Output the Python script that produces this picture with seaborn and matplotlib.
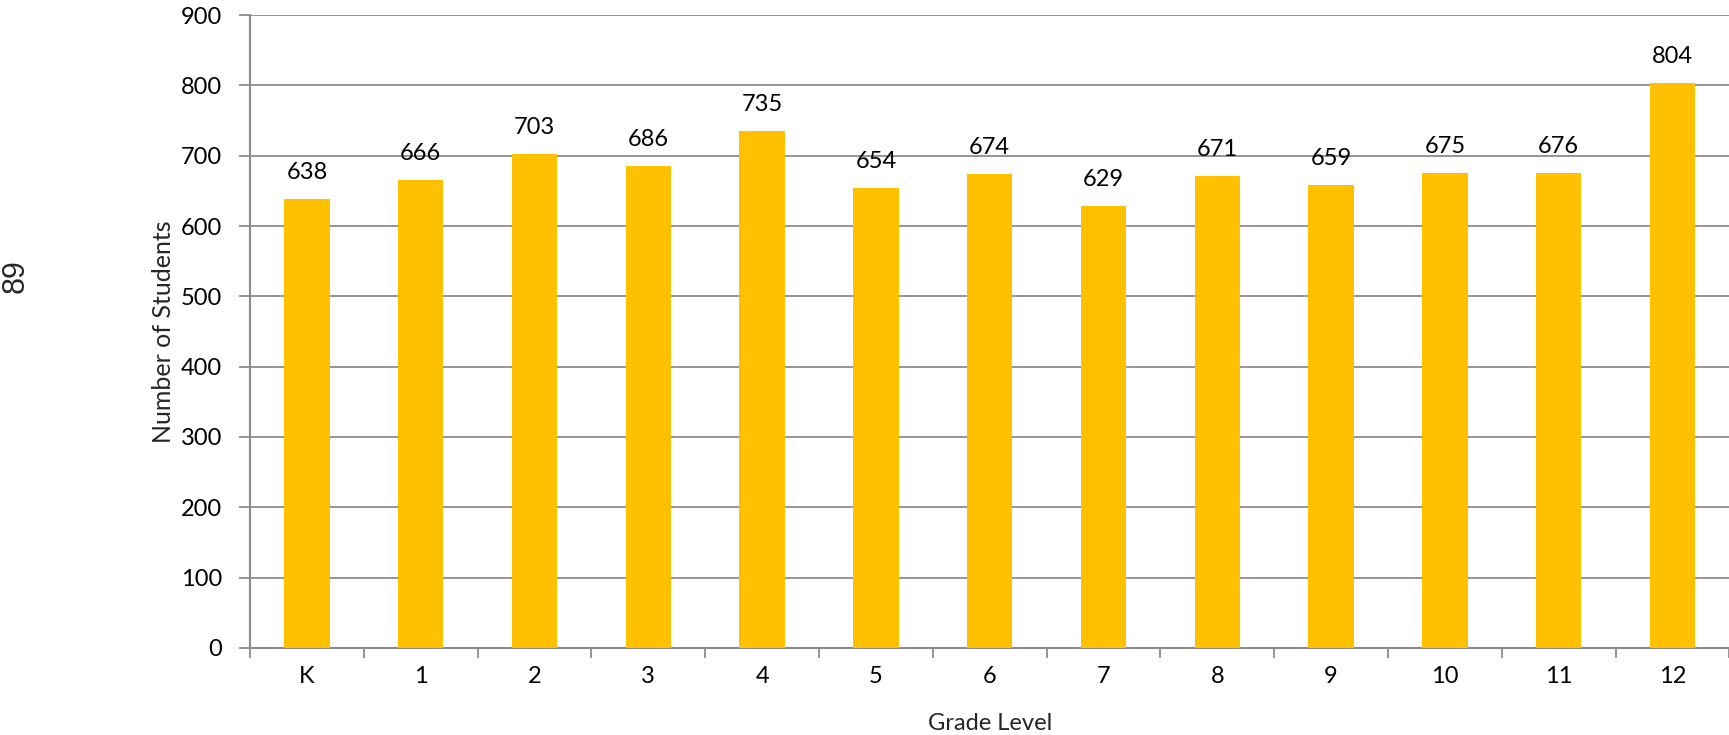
import matplotlib
matplotlib.use("Agg")
import matplotlib.pyplot as plt
import seaborn as sns
import pandas as pd
from matplotlib.ticker import FixedLocator, MultipleLocator

# Enrollment by grade level
grades = ["K", "1", "2", "3", "4", "5", "6", "7", "8", "9", "10", "11", "12"]
students = [638, 666, 703, 686, 735, 654, 674, 629, 671, 659, 675, 676, 804]
page_number = "89"

sns.set_style("white")
plt.rcParams["font.family"] = ["Lato", "DejaVu Sans"]

df = pd.DataFrame({"Grade Level": grades, "Number of Students": students})

fig = plt.figure(figsize=(17.29, 7.35), dpi=100)
ax = fig.add_axes([0.14459, 0.11837, 0.85564, 0.86122])

gray = "#8c8c8c"
bar_color = "#FFC000"
fs = 17

sns.barplot(data=df, x="Grade Level", y="Number of Students", order=grades,
            color=bar_color, width=0.4, saturation=1, ax=ax, zorder=3,
            linewidth=0)

ax.set_xlim(-0.5, len(grades) - 0.5)
ax.set_ylim(0, 900)
ax.yaxis.set_major_locator(MultipleLocator(100))
ax.grid(axis="y", color=gray, linewidth=1.3, zorder=0)
ax.grid(axis="x", visible=False)
ax.set_axisbelow(True)

# category boundaries carry the tick marks, centres carry the labels
ax.xaxis.set_major_locator(FixedLocator([i - 0.5 for i in range(len(grades) + 1)]))
ax.xaxis.set_minor_locator(FixedLocator(list(range(len(grades)))))
ax.set_xticklabels([], minor=False)
ax.set_xticklabels(grades, minor=True)
ax.tick_params(axis="x", which="major", direction="out", length=7, width=1.3,
               color=gray, bottom=True)
ax.tick_params(axis="x", which="minor", length=0, pad=13, labelsize=fs,
               labelcolor="black")
ax.tick_params(axis="y", direction="out", length=8, width=1.3, color=gray,
               left=True, pad=12, labelsize=fs, labelcolor="black")

for side in ("top", "right"):
    ax.spines[side].set_visible(False)
for side in ("left", "bottom"):
    ax.spines[side].set_color(gray)
    ax.spines[side].set_linewidth(1.5)

ax.set_xlabel("Grade Level", fontsize=fs)
ax.set_ylabel("Number of Students", fontsize=18)
ax.xaxis.label.set_va("center")
ax.yaxis.label.set_va("center")
ax.xaxis.set_label_coords(0.5, -0.1185)
ax.yaxis.set_label_coords(-0.0588, 0.5)

for i, v in enumerate(students):
    ax.annotate(f"{v}", xy=(i, v), xytext=(0, 14.4), textcoords="offset points",
                ha="center", va="baseline", fontsize=fs, color="black")

fig.text(15.3 / 1729, 1 - 276.3 / 735, page_number, rotation=90,
         ha="center", va="center", fontsize=22, family="Liberation Sans")

fig.savefig("out.png", dpi=100)
